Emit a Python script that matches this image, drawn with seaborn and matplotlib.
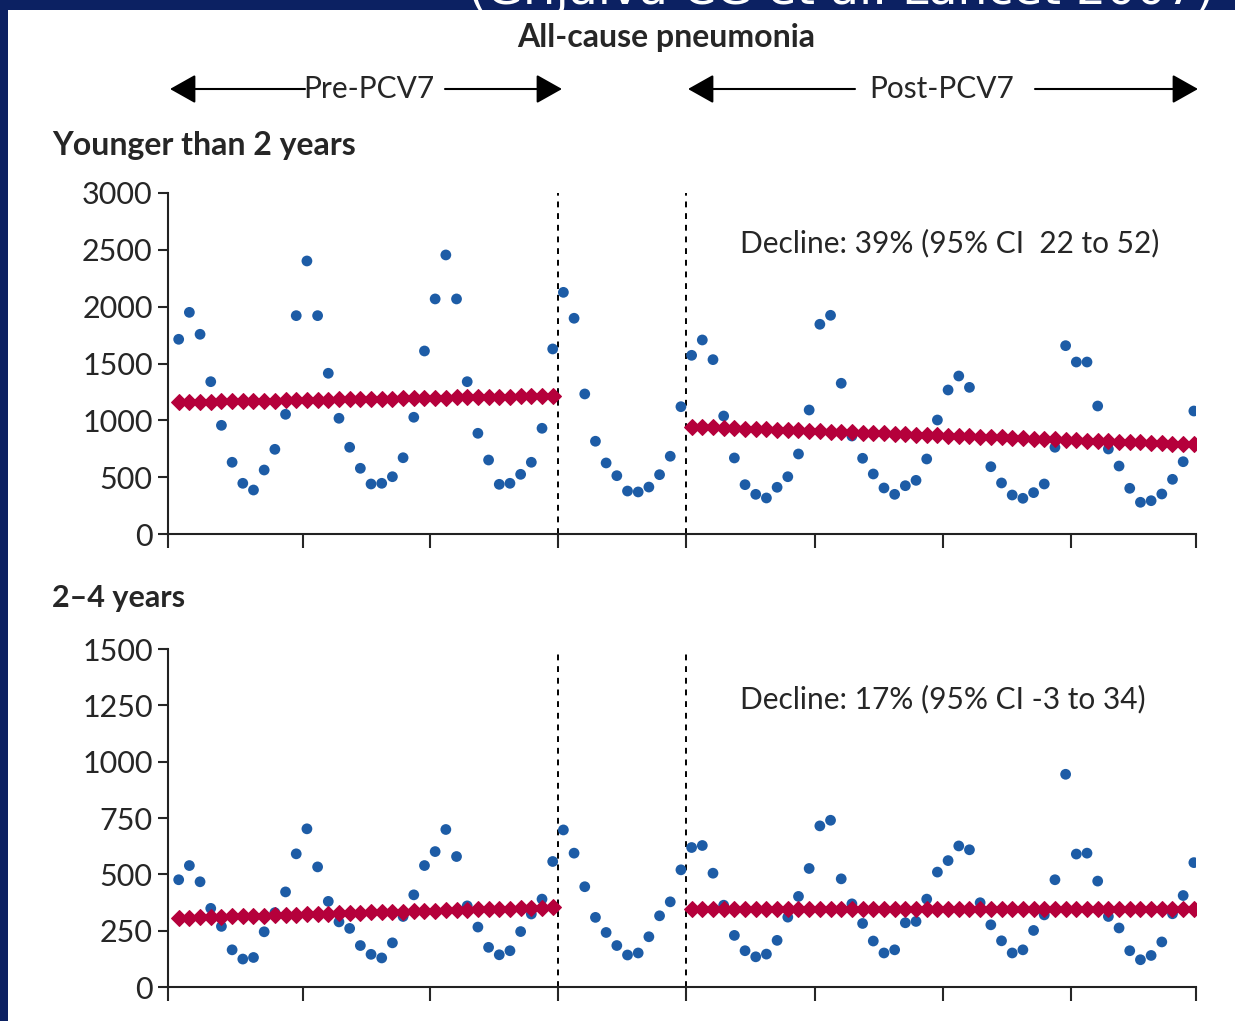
import numpy as np
import pandas as pd
import matplotlib
matplotlib.use('Agg')
import matplotlib.pyplot as plt
from matplotlib.patches import Rectangle, FancyArrowPatch
import seaborn as sns

# Style
sns.set_style('ticks')
plt.rcParams['font.family'] = ['Lato', 'DejaVu Sans']

## Data ------------------------------------------------------------------------
# monthly admissions, 8 years (months 1..96); months 37-48 = transition year
months = list(range(1, 97))
pre_months = list(range(1, 37))
post_months = list(range(49, 97))

under2 = [1713, 1950, 1757, 1340, 956, 631, 446, 387, 563, 745, 1053, 1921,
          2402, 1921, 1414, 1018, 763, 578, 440, 446, 504, 671, 1027, 1610,
          2068, 2455, 2068, 1340, 886, 651, 437, 446, 525, 631, 930, 1628,
          2126, 1898, 1232, 816, 625, 513, 378, 370, 413, 522, 684, 1120,
          1572, 1707, 1534, 1038, 669, 434, 349, 317, 411, 504, 704, 1091,
          1845, 1924, 1326, 862, 666, 528, 405, 349, 425, 472, 660, 1003,
          1267, 1390, 1290, 850, 592, 449, 343, 314, 364, 440, 763, 1657,
          1513, 1513, 1126, 748, 598, 402, 279, 293, 352, 481, 636, 1082]

age2to4 = [476, 539, 467, 349, 269, 165, 124, 131, 245, 330, 422, 591,
           702, 533, 380, 289, 260, 184, 145, 129, 196, 313, 409, 539,
           601, 699, 579, 360, 266, 176, 143, 161, 246, 324, 390, 557,
           697, 594, 445, 309, 242, 184, 142, 151, 223, 316, 378, 520,
           619, 628, 505, 363, 229, 161, 134, 146, 207, 310, 402, 526,
           715, 740, 480, 369, 282, 204, 151, 165, 285, 291, 390, 510,
           561, 626, 609, 374, 276, 205, 151, 165, 251, 320, 476, 944,
           590, 594, 470, 313, 262, 161, 121, 140, 200, 325, 406, 552]

# model trend (red markers)
under2_trend_pre = [1160, 1162, 1163, 1165, 1166, 1168, 1169, 1171, 1173, 1174,
                    1176, 1177, 1179, 1180, 1182, 1184, 1185, 1187, 1188, 1190,
                    1191, 1193, 1195, 1196, 1198, 1199, 1201, 1202, 1204, 1206,
                    1207, 1209, 1210, 1212, 1213, 1215]
under2_trend_post = [944, 941, 937, 934, 931, 928, 924, 921, 918, 914,
                     911, 908, 905, 901, 898, 895, 891, 888, 885, 882,
                     878, 875, 872, 868, 865, 862, 859, 855, 852, 849,
                     845, 842, 839, 836, 832, 829, 826, 822, 819, 816,
                     813, 809, 806, 803, 799, 796, 793, 790]
age2to4_trend_pre = [307, 308, 310, 311, 312, 314, 315, 316, 317, 319,
                     320, 321, 323, 324, 325, 327, 328, 329, 331, 332,
                     333, 335, 336, 337, 338, 340, 341, 342, 344, 345,
                     346, 348, 349, 350, 352, 353]
age2to4_trend_post = [347] * 24 + [346] * 24

under2_note = 'Decline: 39% (95% CI  22 to 52)'
age2to4_note = 'Decline: 17% (95% CI -3 to 34)'

BLUE = '#1d5ca6'
RED = '#b5003b'
NAVY = '#0c2162'

W, H = 1235, 1021
fig = plt.figure(figsize=(W / 100, H / 100), dpi=100, facecolor=NAVY)

# white slide panel + cut-off citation in the banner
fig.add_artist(Rectangle((8 / W, 0), 1 - 8 / W, (H - 10) / H, transform=fig.transFigure,
                         facecolor='white', edgecolor='none', zorder=-1))
fig.text(468 / W, 1 - 4 / H, '(Grijalva CG et al. Lancet 2007)', color='white',
         fontsize=34, family=['DejaVu Sans'], ha='left', va='baseline', zorder=-2)


def draw_panel(ax, counts, trend_pre, trend_post, ymax, step, note):
    df = pd.DataFrame({'month': months, 'count': counts})
    sns.scatterplot(data=df, x='month', y='count', ax=ax, color=BLUE, s=60,
                    edgecolor='none', zorder=3)
    for mm, tr in [(pre_months, trend_pre), (post_months, trend_post)]:
        sns.lineplot(x=mm, y=tr, ax=ax, color=RED, linewidth=3.5, marker='D',
                     markersize=8.5, markeredgecolor=RED, zorder=4)
    ax.axvline(36.5, color='black', ls=(0, (3, 3)), lw=1.4, zorder=2)
    ax.axvline(48.5, color='black', ls=(0, (3, 3)), lw=1.4, zorder=2)

    ax.set_xlim(0, 96.2)
    ax.set_ylim(0, ymax)
    ax.set_xticks([0, 12.6, 24.5, 36.5, 48.5, 60.5, 72.5, 84.5, 96.2])
    ax.set_xticklabels([])
    ax.set_yticks(np.arange(0, ymax + 1, step))
    ax.tick_params(axis='y', length=7, width=1.5, labelsize=22, pad=4)
    ax.tick_params(axis='x', length=10, width=1.5)
    ax.set_xlabel('')
    ax.set_ylabel('')
    sns.despine(ax=ax)
    for sp in ['left', 'bottom']:
        ax.spines[sp].set_linewidth(1.5)
        ax.spines[sp].set_color('#222222')
    ax.text(0.556, 0.853, note, transform=ax.transAxes, fontsize=21.5,
            ha='left', va='center')


ax1 = fig.add_axes([168 / W, (H - 534) / H, 1028 / W, 341 / H])
draw_panel(ax1, under2, under2_trend_pre, under2_trend_post, 3000, 500, under2_note)

ax2 = fig.add_axes([168 / W, (H - 987) / H, 1028 / W, 338 / H])
draw_panel(ax2, age2to4, age2to4_trend_pre, age2to4_trend_post, 1500, 250, age2to4_note)

# headings
fig.text(666 / W, 1 - 37 / H, 'All-cause pneumonia', fontsize=23, fontweight='bold',
         ha='center', va='center')
fig.text(52 / W, 1 - 146 / H, 'Younger than 2 years', fontsize=23, fontweight='bold',
         ha='left', va='center')
fig.text(52 / W, 1 - 598 / H, '2\u20134 years', fontsize=22, fontweight='bold',
         ha='left', va='center')

# period arrows
ya = 1 - 89 / H
fig.text(369 / W, ya, 'Pre-PCV7', fontsize=21.5, ha='center', va='center')
fig.text(942 / W, ya, 'Post-PCV7', fontsize=21.5, ha='center', va='center')
for x0, x1 in [(305, 170), (445, 562), (855, 688), (1035, 1198)]:
    fig.add_artist(FancyArrowPatch((x0 / W, ya), (x1 / W, ya), transform=fig.transFigure,
                                   arrowstyle='-|>,head_length=0.8,head_width=0.45',
                                   mutation_scale=20, lw=1.5, color='black',
                                   shrinkA=0, shrinkB=0))

fig.savefig('out.png', dpi=100, facecolor=NAVY)
